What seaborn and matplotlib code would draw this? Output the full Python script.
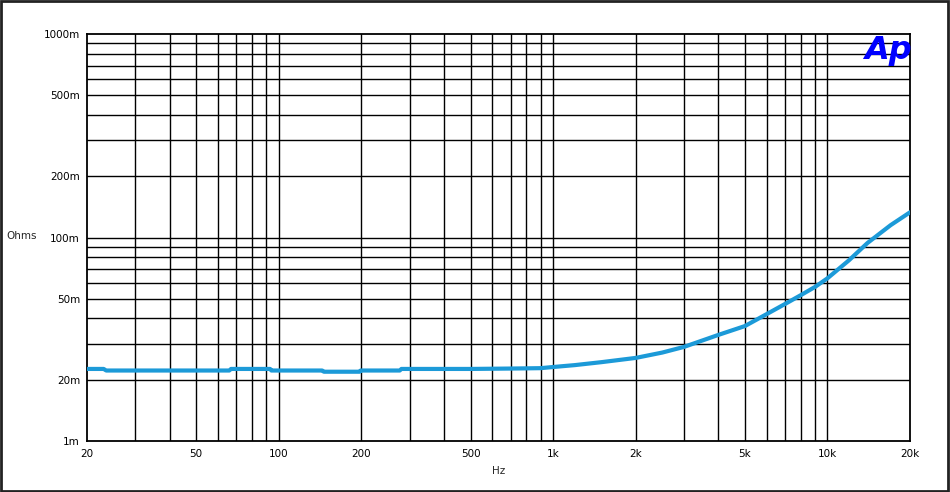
import numpy as np
import pandas as pd
import matplotlib
matplotlib.use("Agg")
import matplotlib.pyplot as plt
import seaborn as sns
from matplotlib.patches import Rectangle

# Impedance readings (Hz, milliohms)
freq_hz = [20, 23, 23.5, 66, 67, 93, 94, 144, 146, 197, 199, 276, 280, 500, 700, 900,
           1000, 1200, 1500, 2000, 2500, 3000, 4000, 5000, 6000, 7000, 8000, 9000,
           10000, 12000, 14000, 17000, 20000]
ohms_m = [22.6, 22.6, 22.2, 22.2, 22.6, 22.6, 22.2, 22.2, 21.9, 21.9, 22.2, 22.2, 22.6,
          22.6, 22.7, 22.8, 23.1, 23.6, 24.4, 25.6, 27.2, 29.0, 33.2, 36.7, 42.0, 47.1,
          52.1, 57.1, 63.0, 77.4, 94.0, 115.0, 133.0]

x_ticks = [20, 50, 100, 200, 500, 1000, 2000, 5000, 10000, 20000]
x_labels = ["20", "50", "100", "200", "500", "1k", "2k", "5k", "10k", "20k"]
y_ticks = [10, 20, 50, 100, 200, 500, 1000]
y_labels = ["1m", "20m", "50m", "100m", "200m", "500m", "1000m"]

sns.set_theme(style="white")
plt.rcParams['font.family'] = ['DejaVu Sans']

df = pd.DataFrame({"Hz": freq_hz, "mOhm": ohms_m})

fig = plt.figure(figsize=(9.5, 4.92), dpi=100)
ax = fig.add_axes([87 / 950, 1 - 441 / 492, 823 / 950, 407 / 492])

# grid lines (every 1-9 per decade)
x_grid = [m * 10 ** e for e in range(1, 5) for m in range(1, 10)]
x_grid = [v for v in x_grid if 20 < v < 20000]
y_grid = [m * 10 ** e for e in range(1, 3) for m in range(1, 10)]
y_grid = [v for v in y_grid if 10 < v < 1000]
for v in x_grid:
    ax.axvline(v, color="black", lw=1.0, zorder=1)
for v in y_grid:
    ax.axhline(v, color="black", lw=1.0, zorder=1)

sns.lineplot(data=df, x="Hz", y="mOhm", ax=ax, color="#1c9ad8", lw=3.0, zorder=3)

ax.set_xscale("log")
ax.set_yscale("log")
ax.set_xlim(20, 20000)
ax.set_ylim(10, 1000)
ax.set_xticks(x_ticks)
ax.set_xticklabels(x_labels)
ax.set_yticks(y_ticks)
ax.set_yticklabels(y_labels)
ax.minorticks_off()
ax.tick_params(axis="both", length=0, labelsize=7.5, colors="black")
ax.tick_params(axis="x", pad=6)
ax.tick_params(axis="y", pad=5)
ax.set_xlabel("Hz", fontsize=7.5, labelpad=5)
ax.set_ylabel("")
for s in ax.spines.values():
    s.set_color("black")
    s.set_linewidth(1.3)
    s.set_visible(True)

fig.text(6 / 950, 1 - 236 / 492, "Ohms", fontsize=7.5, va="center", ha="left")

# Ap logo
fig.text(888 / 950, 1 - 50 / 492, "Ap", fontsize=23, color="#0000ff", fontweight="bold",
         fontstyle="italic", ha="center", va="center")

# outer frame
fig.patches.append(Rectangle((0.001, 0.002), 0.997, 0.995, transform=fig.transFigure,
                             fill=False, edgecolor="#222222", lw=2))

fig.savefig("out.png", dpi=100, facecolor="white")
